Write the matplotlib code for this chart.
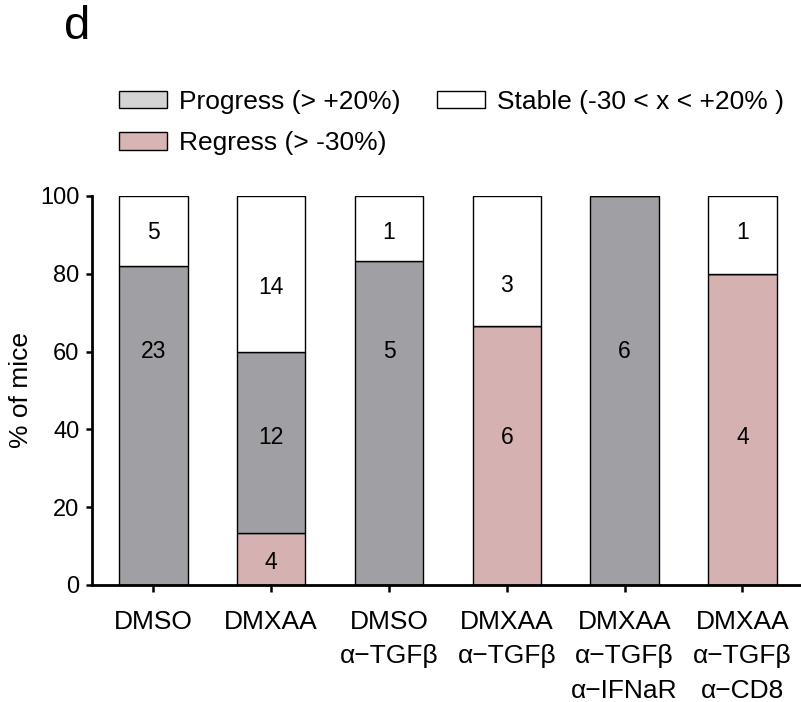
import matplotlib
matplotlib.use("Agg")
from matplotlib import pyplot as plt
from matplotlib.patches import Patch
import numpy as np

groups = ["DMSO", "DMXAA", "DMSO\nα−TGFβ", "DMXAA\nα−TGFβ",
          "DMXAA\nα−TGFβ\nα−IFNaR", "DMXAA\nα−TGFβ\nα−CD8"]
# % of mice per group
regress_pct = [0, 13.3, 0, 66.7, 0, 80.0]
progress_pct = [82.1, 46.7, 83.3, 0, 100.0, 0]
stable_pct = [17.9, 40.0, 16.7, 33.3, 0, 20.0]
# mice counts written in the segments
regress_n = [None, 4, None, 6, None, 4]
progress_n = [23, 12, 5, None, 6, None]
stable_n = [5, 14, 1, 3, None, 1]

# where the count labels sit (y in %)
regress_ty = [None, 5.7, None, 37.8, None, 37.8]
progress_ty = [60, 37.8, 60, None, 60, None]
stable_ty = [90.7, 76.6, 90.7, 77, None, 90.7]

plt.rcParams['font.family'] = ['Liberation Sans', 'DejaVu Sans']

c_prog = "#a09fa4"
c_reg = "#d5b1b1"
c_stab = "#ffffff"

fig = plt.figure(figsize=(8.01, 7.02), dpi=100)
ax = fig.add_axes([0.115, 0.1667, 0.884, 0.5541])

x = np.arange(len(groups))
w = 0.58
reg = np.array(regress_pct)
prog = np.array(progress_pct)
stab = np.array(stable_pct)
ax.bar(x, reg, w, color=c_reg, edgecolor="black", linewidth=1)
ax.bar(x, prog, w, bottom=reg, color=c_prog, edgecolor="black", linewidth=1)
ax.bar(x, stab, w, bottom=reg + prog, color=c_stab, edgecolor="black", linewidth=1)

for ns, ys in [(regress_n, regress_ty), (progress_n, progress_ty), (stable_n, stable_ty)]:
    for i, (n, y) in enumerate(zip(ns, ys)):
        if n is not None:
            ax.text(i, y, str(n), ha="center", va="center", fontsize=16.5)

ax.set_xlim(-0.52, 5.49)
ax.set_ylim(0, 100)
ax.set_yticks([0, 20, 40, 60, 80, 100])
ax.set_xticks(x)
ax.set_xticklabels(groups, fontsize=19, linespacing=1.55)
ax.tick_params(axis="y", labelsize=17, length=4, width=1.8, pad=5)
ax.tick_params(axis="x", length=5, width=1.8, pad=13)
ax.spines["top"].set_visible(False)
ax.spines["right"].set_visible(False)
ax.spines["left"].set_linewidth(2)
ax.spines["bottom"].set_linewidth(2)
ax.set_ylabel("% of mice", fontsize=19, labelpad=5)

handles = [Patch(facecolor="#d4d4d4", edgecolor="black", label="Progress (> +20%)"),
           Patch(facecolor="#d8b4b4", edgecolor="black", label="Regress (> -30%)"),
           Patch(facecolor="white", edgecolor="black", label="Stable (-30 < x < +20% )")]
fig.legend(handles=handles, ncol=2, loc="upper left", bbox_to_anchor=(0.149, 0.872),
           frameon=False, fontsize=19, handlelength=1.8, handleheight=0.65,
           handletextpad=0.45, columnspacing=1.4, labelspacing=0.65,
           borderaxespad=0, borderpad=0)

fig.text(0.08, 0.962, "d", fontsize=34, va="center", ha="left")

fig.savefig("out.png", dpi=100)
